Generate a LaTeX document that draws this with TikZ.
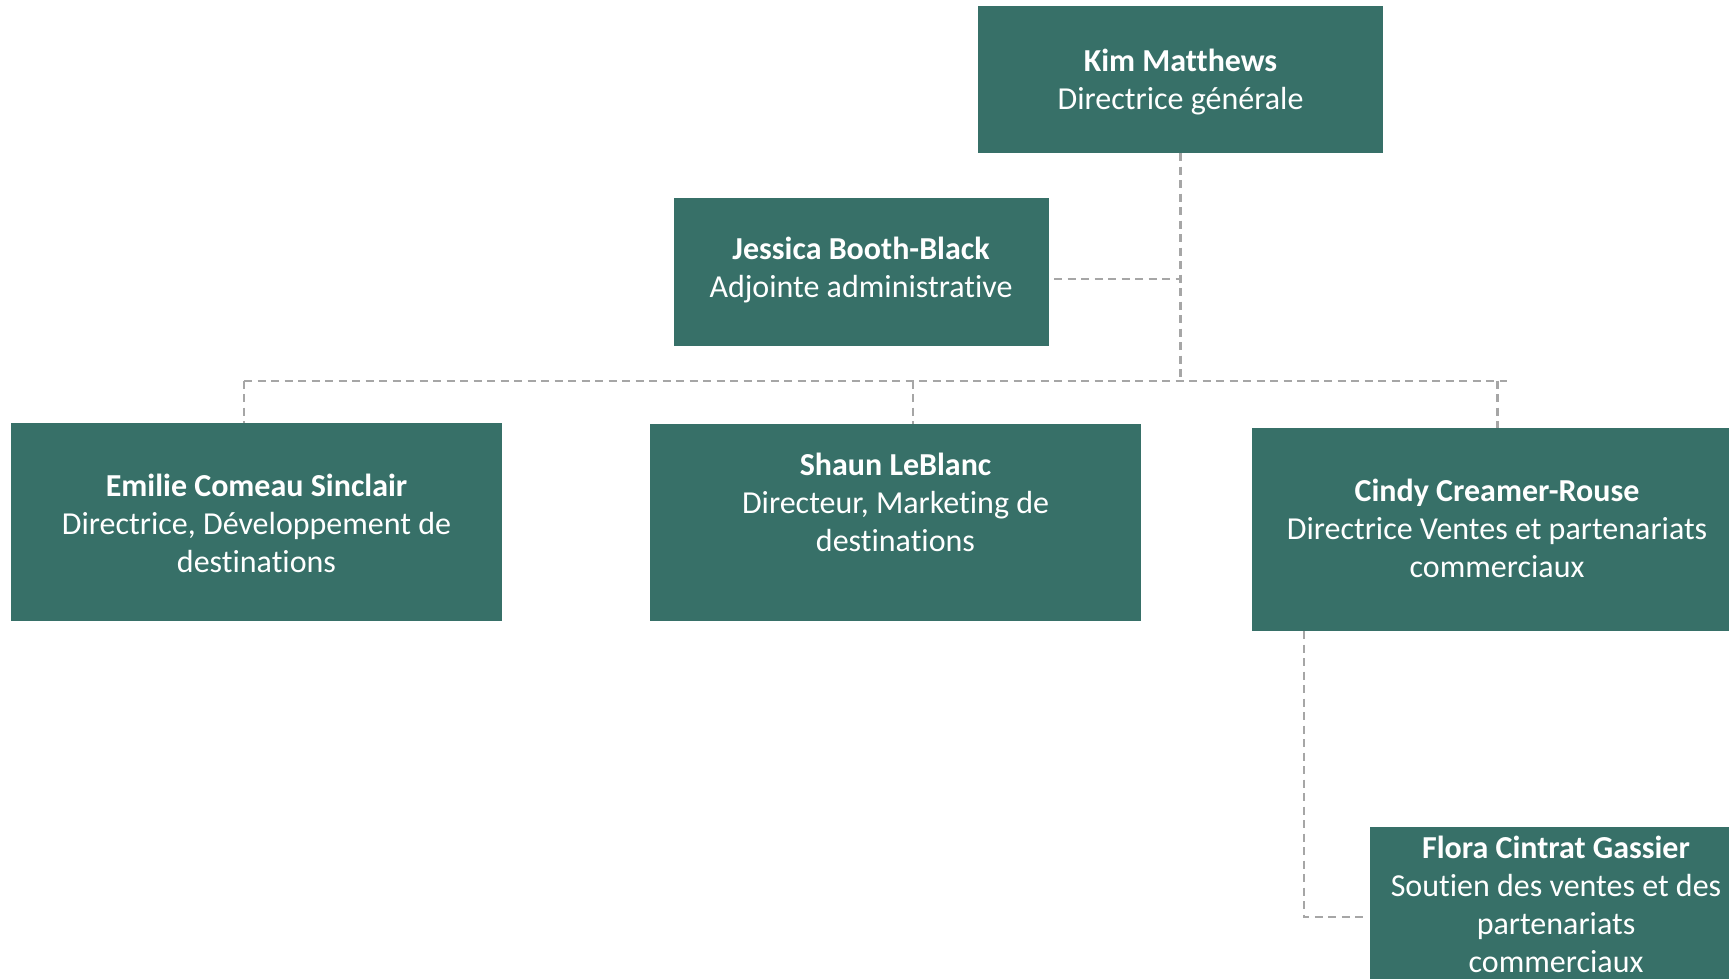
\documentclass[tikz,border=0pt]{standalone}
\usepackage{fontspec}
\setmainfont{Carlito}[Ligatures={NoCommon}]
\definecolor{boxteal}{RGB}{55,112,104}
\definecolor{linegray}{RGB}{166,166,166}
\tikzset{
  box/.style={rectangle, fill=boxteal, draw=none, inner sep=0pt},
  txt/.style={text=white, align=center, inner sep=0pt, anchor=north,
              font=\fontsize{32}{38}\selectfont},
  conn/.style={draw=linegray, line width=2.2pt, dash pattern=on 8pt off 5.5pt}
}
\newcommand{\fst}{\rule{0pt}{25pt}}
\begin{document}
\begin{tikzpicture}[x=1pt,y=-1pt]
\useasboundingbox (0,0) rectangle (1729,979);
\clip (0,0) rectangle (1729,979);
\fill[white] (0,0) rectangle (1729,979);

% boxes
\node[box, minimum width=405pt, minimum height=147pt] (kim) at (1180.5,79.5) {};
\node[box, minimum width=375pt, minimum height=147.5pt] (jes) at (861.5,271.8) {};
\node[box, minimum width=491pt, minimum height=197.7pt] (emi) at (256.5,521.8) {};
\node[box, minimum width=490.7pt, minimum height=196.7pt] (sha) at (895.3,522.3) {};
\node[box, minimum width=491pt, minimum height=203pt] (cin) at (1497.5,529.5) {};
\node[box, minimum width=372pt, minimum height=200pt] (flo) at (1556,926.7) {};

% texts
\node[txt] (kimT) at (1180.5,46.7) {\fst\textbf{Kim Matthews}\\Directrice générale};
\node[txt] (jesT) at (861,234) {\fst\textbf{Jessica Booth-Black}\\Adjointe administrative};
\node[txt] (emiT) at (256.5,471) {\fst\textbf{Emilie Comeau Sinclair}\\Directrice, Développement de\\destinations};
\node[txt] (shaT) at (895.5,450) {\fst\textbf{Shaun LeBlanc}\\Directeur, Marketing de\\destinations};
\node[txt] (cinT) at (1497,476.5) {\fst\textbf{Cindy Creamer-Rouse}\\Directrice Ventes et partenariats\\commerciaux};
\node[txt] (floT) at (1556,833) {\fst\textbf{Flora Cintrat Gassier}\\Soutien des ventes et des\\partenariats\\commerciaux};

% junction coordinates
\coordinate (busL) at (244,380.7);
\coordinate (busR) at (1507,380.7);
\coordinate (jesJ) at (1180.5,278.7);
\coordinate (shaD) at (913,380.7);
\coordinate (floJ) at (1304,917.3);

% connectors
\draw[conn] (kim.south) -- (kim.south |- busL);
\draw[conn] ([xshift=5pt]jes.east |- jesJ) -- (jesJ);
\draw[conn] (busL) -- (busR);
\draw[conn] (busL) -- (busL |- emi.north);
\draw[conn] (shaD) -- (shaD |- sha.north);
\draw[conn] (cin.north |- busL) -- (cin.north);
\draw[conn] (cin.south -| floJ) -- (floJ) -- ([xshift=-5pt]flo.west |- floJ);
\end{tikzpicture}
\end{document}
